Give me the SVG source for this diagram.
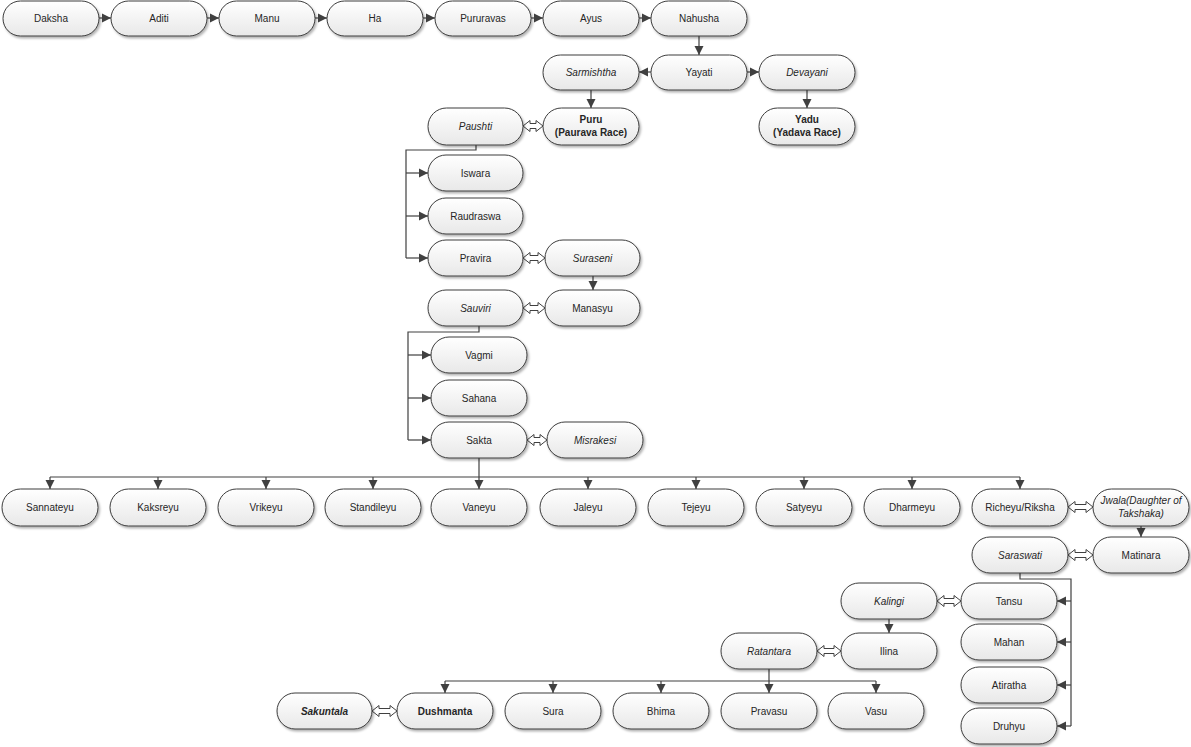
<svg xmlns="http://www.w3.org/2000/svg" width="1191" height="747" viewBox="0 0 1191 747">
<defs>
<linearGradient id="g" x1="0" y1="0" x2="0" y2="1"><stop offset="0" stop-color="#ffffff"/><stop offset="1" stop-color="#e8e8e8"/></linearGradient>
<filter id="sh" x="-10%" y="-20%" width="130%" height="160%"><feDropShadow dx="1.5" dy="2" stdDeviation="1.2" flood-color="#000" flood-opacity="0.3"/></filter>
<marker id="ah" markerUnits="userSpaceOnUse" markerWidth="10" markerHeight="10" refX="9" refY="5" orient="auto"><path d="M0,0.5 L9,5 L0,9.5 z" fill="#404040"/></marker>
<style>
.box{fill:url(#g);stroke:#3c3c3c;stroke-width:1;filter:url(#sh)}
.t{font-family:"Liberation Sans",Arial,sans-serif;font-size:10px;fill:#262626;text-anchor:middle}
.i{font-style:italic}
.b{font-weight:bold}
.c{fill:none;stroke:#404040;stroke-width:1.2}
.a{marker-end:url(#ah)}
.d{fill:#fff;stroke:#404040;stroke-width:1}
</style>
</defs>
<rect width="1191" height="747" fill="#fff"/>
<g id="connectors">
<path class="c a" d="M99,18 H111"/><path class="c a" d="M207,18 H219"/><path class="c a" d="M315,18 H327"/><path class="c a" d="M423,18 H435"/><path class="c a" d="M531,18 H543"/><path class="c a" d="M639,18 H651"/>
<path class="c a" d="M699,36 V55"/>
<path class="c a" d="M651,72 H639"/><path class="c a" d="M747,72 H759"/>
<path class="c a" d="M591,90 V108"/><path class="c a" d="M807,90 V108"/>
<path class="c" d="M476,144 V150 H406 V258"/>
<path class="c a" d="M406,173 H428"/><path class="c a" d="M406,216 H428"/><path class="c a" d="M406,258 H428"/>
<path class="c a" d="M593,276 V290"/>
<path class="c" d="M479,326 V332 H408 V440"/>
<path class="c a" d="M408,355 H431"/><path class="c a" d="M408,398 H431"/><path class="c a" d="M408,440 H431"/>
<path class="c a" d="M479,458 V489"/>
<path class="c" d="M50,477 H1020"/>
<path class="c a" d="M50,477 V489"/><path class="c a" d="M158,477 V489"/><path class="c a" d="M266,477 V489"/><path class="c a" d="M373,477 V489"/><path class="c a" d="M588,477 V489"/><path class="c a" d="M696,477 V489"/><path class="c a" d="M804,477 V489"/><path class="c a" d="M912,477 V489"/><path class="c a" d="M1020,477 V489"/>
<path class="c a" d="M1141,526 V537"/>
<path class="c" d="M1020,573 V579 H1071 V726"/>
<path class="c a" d="M1071,601 H1057"/><path class="c a" d="M1071,642 H1057"/><path class="c a" d="M1071,685 H1057"/><path class="c a" d="M1071,726 H1057"/>
<path class="c a" d="M889,619 V633"/>
<path class="c a" d="M769,669 V693"/>
<path class="c" d="M445,681 H876"/>
<path class="c a" d="M445,681 V693"/><path class="c a" d="M553,681 V693"/><path class="c a" d="M661,681 V693"/><path class="c a" d="M876,681 V693"/>
<polygon class="d" points="523,126 530,120.5 530,123.5 536,123.5 536,120.5 543,126 536,131.5 536,128.5 530,128.5 530,131.5"/>
<polygon class="d" points="523,258 530,252.5 530,255.5 538,255.5 538,252.5 545,258 538,263.5 538,260.5 530,260.5 530,263.5"/>
<polygon class="d" points="523,308 530,302.5 530,305.5 538,305.5 538,302.5 545,308 538,313.5 538,310.5 530,310.5 530,313.5"/>
<polygon class="d" points="527,440 534,434.5 534,437.5 540,437.5 540,434.5 547,440 540,445.5 540,442.5 534,442.5 534,445.5"/>
<polygon class="d" points="1068,507 1075,501.5 1075,504.5 1086,504.5 1086,501.5 1093,507 1086,512.5 1086,509.5 1075,509.5 1075,512.5"/>
<polygon class="d" points="1068,555 1075,549.5 1075,552.5 1086,552.5 1086,549.5 1093,555 1086,560.5 1086,557.5 1075,557.5 1075,560.5"/>
<polygon class="d" points="937,601 944,595.5 944,598.5 954,598.5 954,595.5 961,601 954,606.5 954,603.5 944,603.5 944,606.5"/>
<polygon class="d" points="817,651 824,645.5 824,648.5 834,648.5 834,645.5 841,651 834,656.5 834,653.5 824,653.5 824,656.5"/>
<polygon class="d" points="372,711 379,705.5 379,708.5 390,708.5 390,705.5 397,711 390,716.5 390,713.5 379,713.5 379,716.5"/>
</g>
<g id="n-daksha"><rect class="box" x="3" y="1" width="96" height="35" rx="17.5"/><text class="t" x="51" y="22">Daksha</text></g>
<g id="n-aditi"><rect class="box" x="111" y="1" width="96" height="35" rx="17.5"/><text class="t" x="159" y="22">Aditi</text></g>
<g id="n-manu"><rect class="box" x="219" y="1" width="96" height="35" rx="17.5"/><text class="t" x="267" y="22">Manu</text></g>
<g id="n-ha"><rect class="box" x="327" y="1" width="96" height="35" rx="17.5"/><text class="t" x="375" y="22">Ha</text></g>
<g id="n-pururavas"><rect class="box" x="435" y="1" width="96" height="35" rx="17.5"/><text class="t" x="483" y="22">Pururavas</text></g>
<g id="n-ayus"><rect class="box" x="543" y="1" width="96" height="35" rx="17.5"/><text class="t" x="591" y="22">Ayus</text></g>
<g id="n-nahusha"><rect class="box" x="651" y="1" width="96" height="35" rx="17.5"/><text class="t" x="699" y="22">Nahusha</text></g>
<g id="n-yayati"><rect class="box" x="651" y="55" width="96" height="35" rx="17.5"/><text class="t" x="699" y="76">Yayati</text></g>
<g id="n-sarmishtha"><rect class="box" x="543" y="55" width="96" height="35" rx="17.5"/><text class="t i" x="591" y="76">Sarmishtha</text></g>
<g id="n-devayani"><rect class="box" x="759" y="55" width="96" height="35" rx="17.5"/><text class="t i" x="807" y="76">Devayani</text></g>
<g id="n-puru"><rect class="box" x="543" y="108" width="96" height="37" rx="18.5"/><text class="t b" x="591" y="123">Puru</text><text class="t b" x="591" y="136">(Paurava Race)</text></g>
<g id="n-paushti"><rect class="box" x="428" y="108" width="95" height="37" rx="18.5"/><text class="t i" x="475.5" y="130">Paushti</text></g>
<g id="n-yadu"><rect class="box" x="759" y="108" width="96" height="37" rx="18.5"/><text class="t b" x="807" y="123">Yadu</text><text class="t b" x="807" y="136">(Yadava Race)</text></g>
<g id="n-iswara"><rect class="box" x="428" y="155" width="95" height="36" rx="18"/><text class="t" x="475.5" y="176.5">Iswara</text></g>
<g id="n-raudraswa"><rect class="box" x="428" y="198" width="95" height="36" rx="18"/><text class="t" x="475.5" y="219.5">Raudraswa</text></g>
<g id="n-pravira"><rect class="box" x="428" y="240" width="95" height="36" rx="18"/><text class="t" x="475.5" y="261.5">Pravira</text></g>
<g id="n-suraseni"><rect class="box" x="545" y="240" width="95" height="36" rx="18"/><text class="t i" x="592.5" y="261.5">Suraseni</text></g>
<g id="n-sauviri"><rect class="box" x="428" y="290" width="95" height="36" rx="18"/><text class="t i" x="475.5" y="311.5">Sauviri</text></g>
<g id="n-manasyu"><rect class="box" x="545" y="290" width="95" height="36" rx="18"/><text class="t" x="592.5" y="311.5">Manasyu</text></g>
<g id="n-vagmi"><rect class="box" x="431" y="337" width="96" height="36" rx="18"/><text class="t" x="479" y="358.5">Vagmi</text></g>
<g id="n-sahana"><rect class="box" x="431" y="380" width="96" height="36" rx="18"/><text class="t" x="479" y="401.5">Sahana</text></g>
<g id="n-sakta"><rect class="box" x="431" y="422" width="96" height="36" rx="18"/><text class="t" x="479" y="443.5">Sakta</text></g>
<g id="n-misrakesi"><rect class="box" x="547" y="422" width="96" height="36" rx="18"/><text class="t i" x="595" y="443.5">Misrakesi</text></g>
<g id="n-sannateyu"><rect class="box" x="2" y="489" width="96" height="37" rx="18.5"/><text class="t" x="50" y="511">Sannateyu</text></g>
<g id="n-kaksreyu"><rect class="box" x="110" y="489" width="96" height="37" rx="18.5"/><text class="t" x="158" y="511">Kaksreyu</text></g>
<g id="n-vrikeyu"><rect class="box" x="218" y="489" width="96" height="37" rx="18.5"/><text class="t" x="266" y="511">Vrikeyu</text></g>
<g id="n-standileyu"><rect class="box" x="325" y="489" width="96" height="37" rx="18.5"/><text class="t" x="373" y="511">Standileyu</text></g>
<g id="n-vaneyu"><rect class="box" x="431" y="489" width="96" height="37" rx="18.5"/><text class="t" x="479" y="511">Vaneyu</text></g>
<g id="n-jaleyu"><rect class="box" x="540" y="489" width="96" height="37" rx="18.5"/><text class="t" x="588" y="511">Jaleyu</text></g>
<g id="n-tejeyu"><rect class="box" x="648" y="489" width="96" height="37" rx="18.5"/><text class="t" x="696" y="511">Tejeyu</text></g>
<g id="n-satyeyu"><rect class="box" x="756" y="489" width="96" height="37" rx="18.5"/><text class="t" x="804" y="511">Satyeyu</text></g>
<g id="n-dharmeyu"><rect class="box" x="864" y="489" width="96" height="37" rx="18.5"/><text class="t" x="912" y="511">Dharmeyu</text></g>
<g id="n-richeyu"><rect class="box" x="972" y="489" width="96" height="37" rx="18.5"/><text class="t" x="1020" y="511">Richeyu/Riksha</text></g>
<g id="n-jwala"><rect class="box" x="1093" y="489" width="96" height="37" rx="18.5"/><text class="t i" x="1141" y="504">Jwala(Daughter of</text><text class="t i" x="1141" y="517">Takshaka)</text></g>
<g id="n-saraswati"><rect class="box" x="972" y="537" width="96" height="36" rx="18"/><text class="t i" x="1020" y="558.5">Saraswati</text></g>
<g id="n-matinara"><rect class="box" x="1093" y="537" width="96" height="36" rx="18"/><text class="t" x="1141" y="558.5">Matinara</text></g>
<g id="n-tansu"><rect class="box" x="961" y="583" width="96" height="36" rx="18"/><text class="t" x="1009" y="604.5">Tansu</text></g>
<g id="n-mahan"><rect class="box" x="961" y="624" width="96" height="36" rx="18"/><text class="t" x="1009" y="645.5">Mahan</text></g>
<g id="n-atiratha"><rect class="box" x="961" y="667" width="96" height="36" rx="18"/><text class="t" x="1009" y="688.5">Atiratha</text></g>
<g id="n-druhyu"><rect class="box" x="961" y="708" width="96" height="36" rx="18"/><text class="t" x="1009" y="729.5">Druhyu</text></g>
<g id="n-kalingi"><rect class="box" x="841" y="583" width="96" height="36" rx="18"/><text class="t i" x="889" y="604.5">Kalingi</text></g>
<g id="n-ilina"><rect class="box" x="841" y="633" width="96" height="36" rx="18"/><text class="t" x="889" y="654.5">Ilina</text></g>
<g id="n-ratantara"><rect class="box" x="721" y="633" width="96" height="36" rx="18"/><text class="t i" x="769" y="654.5">Ratantara</text></g>
<g id="n-sakuntala"><rect class="box" x="277" y="693" width="95" height="36" rx="18"/><text class="t b i" x="324.5" y="714.5">Sakuntala</text></g>
<g id="n-dushmanta"><rect class="box" x="397" y="693" width="96" height="36" rx="18"/><text class="t b" x="445" y="714.5">Dushmanta</text></g>
<g id="n-sura"><rect class="box" x="505" y="693" width="96" height="36" rx="18"/><text class="t" x="553" y="714.5">Sura</text></g>
<g id="n-bhima"><rect class="box" x="613" y="693" width="96" height="36" rx="18"/><text class="t" x="661" y="714.5">Bhima</text></g>
<g id="n-pravasu"><rect class="box" x="721" y="693" width="96" height="36" rx="18"/><text class="t" x="769" y="714.5">Pravasu</text></g>
<g id="n-vasu"><rect class="box" x="828" y="693" width="96" height="36" rx="18"/><text class="t" x="876" y="714.5">Vasu</text></g>
</svg>
